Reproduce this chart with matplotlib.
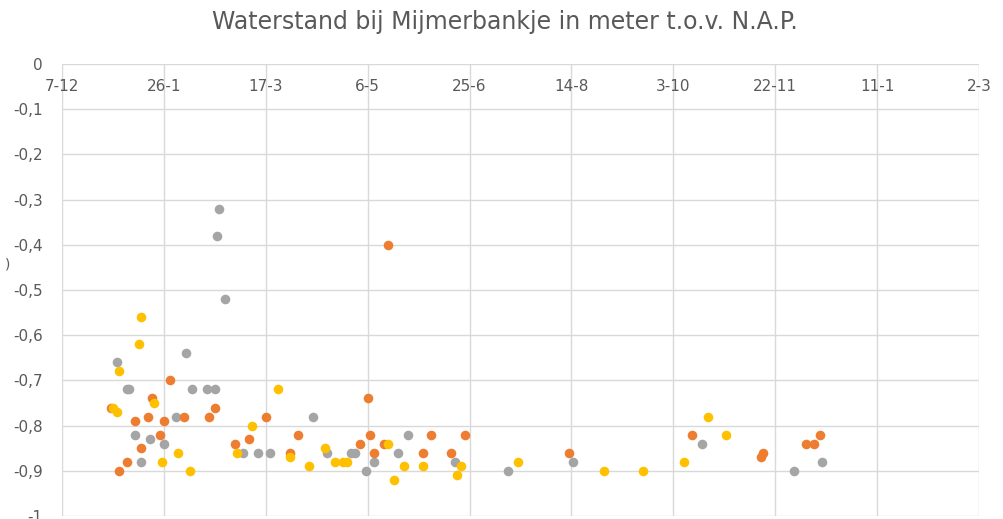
import matplotlib
matplotlib.use("Agg")
import matplotlib.pyplot as plt
import pandas as pd
import numpy as np

# metingen (datum, waterstand in m t.o.v. NAP)
grijs_datum = ["2021-01-03", "2021-01-08", "2021-01-09", "2021-01-12", "2021-01-15",
               "2021-01-19", "2021-01-26", "2021-02-01", "2021-02-06", "2021-02-09",
               "2021-02-16", "2021-02-20", "2021-02-21", "2021-02-22", "2021-02-25",
               "2021-03-06", "2021-03-13", "2021-03-19", "2021-04-09", "2021-04-16",
               "2021-04-28", "2021-04-30", "2021-05-05", "2021-05-09", "2021-05-21",
               "2021-05-26", "2021-06-18", "2021-07-14", "2021-08-15", "2021-10-17",
               "2021-12-01", "2021-12-15"]
grijs_stand = [-0.66, -0.72, -0.72, -0.82, -0.88,
               -0.83, -0.84, -0.78, -0.64, -0.72,
               -0.72, -0.72, -0.38, -0.32, -0.52,
               -0.86, -0.86, -0.86, -0.78, -0.86,
               -0.86, -0.86, -0.90, -0.88, -0.86,
               -0.82, -0.88, -0.90, -0.88, -0.84,
               -0.90, -0.88]

oranje_datum = ["2020-12-31", "2021-01-04", "2021-01-08", "2021-01-12", "2021-01-15",
                "2021-01-18", "2021-01-20", "2021-01-24", "2021-01-26", "2021-01-29",
                "2021-02-05", "2021-02-17", "2021-02-20", "2021-03-02", "2021-03-09",
                "2021-03-17", "2021-03-29", "2021-04-02", "2021-05-02", "2021-05-06",
                "2021-05-07", "2021-05-09", "2021-05-14", "2021-05-16", "2021-06-02",
                "2021-06-06", "2021-06-16", "2021-06-23", "2021-08-13", "2021-10-12",
                "2021-11-15", "2021-11-16", "2021-12-07", "2021-12-11", "2021-12-14"]
oranje_stand = [-0.76, -0.90, -0.88, -0.79, -0.85,
                -0.78, -0.74, -0.82, -0.79, -0.70,
                -0.78, -0.78, -0.76, -0.84, -0.83,
                -0.78, -0.86, -0.82, -0.84, -0.74,
                -0.82, -0.86, -0.84, -0.40, -0.86,
                -0.82, -0.86, -0.82, -0.86, -0.82,
                -0.87, -0.86, -0.84, -0.84, -0.82]

geel_datum = ["2021-01-01", "2021-01-03", "2021-01-04", "2021-01-14", "2021-01-15",
              "2021-01-21", "2021-01-25", "2021-02-02", "2021-02-08", "2021-03-03",
              "2021-03-10", "2021-03-23", "2021-03-29", "2021-04-07", "2021-04-15",
              "2021-04-20", "2021-04-24", "2021-04-26", "2021-05-16", "2021-05-19",
              "2021-05-24", "2021-06-02", "2021-06-19", "2021-06-21", "2021-07-19",
              "2021-08-30", "2021-09-18", "2021-10-08", "2021-10-20", "2021-10-29"]
geel_stand = [-0.76, -0.77, -0.68, -0.62, -0.56,
              -0.75, -0.88, -0.86, -0.90, -0.86,
              -0.80, -0.72, -0.87, -0.89, -0.85,
              -0.88, -0.88, -0.88, -0.84, -0.92,
              -0.89, -0.89, -0.91, -0.89, -0.88,
              -0.90, -0.90, -0.88, -0.78, -0.82]

as_start = "2020-12-07"
as_eind = "2022-03-02"
stap_dagen = 50

tekstkleur = "#595959"
rasterkleur = "#D9D9D9"

plt.rcParams['font.family'] = ['Liberation Sans Narrow', 'DejaVu Sans']

fig = plt.figure(figsize=(10.04, 5.19), dpi=100)
ax = fig.add_axes([62/1004, 1-516/519, (979-62)/1004, (516-64)/519])

# grijs eerst, dan oranje, geel bovenop
ax.scatter(pd.to_datetime(grijs_datum), grijs_stand, s=48, color="#A5A5A5", lw=0, zorder=3)
ax.scatter(pd.to_datetime(oranje_datum), oranje_stand, s=48, color="#ED7D31", lw=0, zorder=4)
ax.scatter(pd.to_datetime(geel_datum), geel_stand, s=48, color="#FFC000", lw=0, zorder=5)

start = pd.Timestamp(as_start)
eind = pd.Timestamp(as_eind)
ticks = pd.date_range(start, eind, freq=f"{stap_dagen}D")
ax.set_xlim(start, eind)
ax.set_xticks(ticks)
ax.set_xticklabels([f"{d.day}-{d.month}" for d in ticks])

ax.set_ylim(-1, 0)
yt = np.round(np.arange(-1, 0.01, 0.1), 1)
ax.set_yticks(yt)
ax.set_yticklabels([("%g" % v).replace(".", ",") if v != 0 else "0" for v in yt])

# as-labels onder de lijn y=0, zoals in Excel
for s in ax.spines.values():
    s.set_visible(False)
ax.spines['bottom'].set_position(('data', 0))
ax.grid(True, color=rasterkleur, lw=1)
ax.set_axisbelow(True)
ax.tick_params(axis='x', length=0, pad=11, labelsize=11, colors=tekstkleur)
ax.tick_params(axis='y', length=0, pad=14, labelsize=11, colors=tekstkleur)

fig.text(0.503, 1-22/519, "Waterstand bij Mijmerbankje in meter t.o.v. N.A.P.",
         ha='center', va='center', fontsize=17, color=tekstkleur)
fig.text(0.008, 1-265/519, ")", ha='center', va='center', fontsize=10, color=tekstkleur)

fig.savefig("out.png", dpi=100)
